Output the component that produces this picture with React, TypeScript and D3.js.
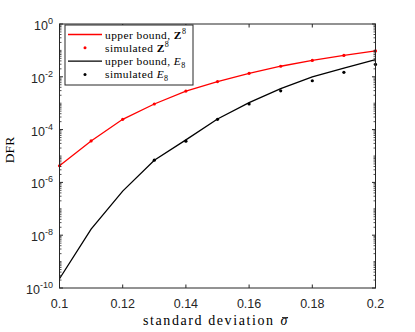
import React from 'react';
import * as d3 from 'd3';

// sigma values and DFR curves (log10 values)
const sigmas = [0.1, 0.11, 0.12, 0.13, 0.14, 0.15, 0.16, 0.17, 0.18, 0.19, 0.2];
const boundZ8 = [-5.37, -4.43, -3.61, -3.03, -2.54, -2.18, -1.87, -1.6, -1.38, -1.19, -1.02];
const simZ8 = [-5.37, -4.43, -3.61, -3.03, -2.54, -2.18, -1.87, -1.6, -1.38, -1.19, -1.02];
const boundE8 = [-9.65, -7.77, -6.33, -5.16, -4.39, -3.6, -2.98, -2.45, -2.0, -1.67, -1.35];
const simE8Sigmas = [0.13, 0.14, 0.15, 0.16, 0.17, 0.18, 0.19, 0.2];
const simE8 = [-5.16, -4.44, -3.61, -3.03, -2.53, -2.15, -1.83, -1.53];

const xTicks = [0.1, 0.12, 0.14, 0.16, 0.18, 0.2];
const xTickLabels = ['0.1', '0.12', '0.14', '0.16', '0.18', '0.2'];
const yExps = [0, -2, -4, -6, -8, -10];

const W = 415;
const H = 332;
const left = 59.5;
const right = 375.5;
const top = 24;
const bottom = 288;

export default function App() {
  const x = d3.scaleLinear().domain([0.1, 0.2]).range([left, right]);
  const y = d3.scaleLog().domain([1e-10, 1]).range([bottom, top]);

  const line = d3
    .line<number>()
    .x((_, i) => x(sigmas[i]))
    .y((d) => y(Math.pow(10, d)));

  const axisColor = '#262626';
  const tickFont = '"Liberation Sans", Arial, sans-serif';
  const serif = '"Liberation Serif", "Times New Roman", serif';

  // minor ticks for every decade
  const minor: number[] = [];
  for (let e = -10; e < 0; e++) {
    for (let m = 1; m < 10; m++) {
      const v = m * Math.pow(10, e);
      if (m === 1 && e % 2 === 0) continue;
      minor.push(v);
    }
  }

  const legendRows = [
    { color: '#ff0000', kind: 'line', text: 'upper bound, ', sym: 'Z', sup: true },
    { color: '#ff0000', kind: 'dot', text: 'simulated ', sym: 'Z', sup: true },
    { color: '#000000', kind: 'line', text: 'upper bound, ', sym: 'E', sup: false },
    { color: '#000000', kind: 'dot', text: 'simulated ', sym: 'E', sup: false },
  ];

  return (
    <div style={{ position: 'fixed', left: 0, top: 0 }}>
      <svg width={W} height={H} style={{ display: 'block', background: '#fff' }}>
        {/* data */}
        <path d={line(boundZ8) || ''} fill="none" stroke="#ff0000" strokeWidth={1.3} />
        <path d={line(boundE8) || ''} fill="none" stroke="#000" strokeWidth={1.3} />
        {simZ8.map((d, i) => (
          <circle key={'z' + i} cx={x(sigmas[i])} cy={y(Math.pow(10, d))} r={1.6} fill="#ff0000" />
        ))}
        {simE8.map((d, i) => (
          <circle key={'e' + i} cx={x(simE8Sigmas[i])} cy={y(Math.pow(10, d))} r={1.6} fill="#000" />
        ))}

        {/* frame */}
        <rect x={left} y={top} width={right - left} height={bottom - top} fill="none" stroke={axisColor} strokeWidth={1} />

        {/* x ticks */}
        {xTicks.map((t, i) => (
          <g key={'xt' + i}>
            <line x1={x(t)} x2={x(t)} y1={bottom} y2={bottom - 3.5} stroke={axisColor} />
            <line x1={x(t)} x2={x(t)} y1={top} y2={top + 3.5} stroke={axisColor} />
            <text x={x(t)} y={307.5} textAnchor="middle" fontFamily={tickFont} fontSize={12.5} fill={axisColor}>
              {xTickLabels[i]}
            </text>
          </g>
        ))}

        {/* y ticks */}
        {yExps.map((e) => (
          <g key={'yt' + e}>
            <line x1={left} x2={left + 3.5} y1={y(Math.pow(10, e))} y2={y(Math.pow(10, e))} stroke={axisColor} />
            <line x1={right} x2={right - 3.5} y1={y(Math.pow(10, e))} y2={y(Math.pow(10, e))} stroke={axisColor} />
            <text x={53} y={y(Math.pow(10, e)) + 6} textAnchor="end" fontFamily={tickFont} fontSize={12.5} fill={axisColor}>
              10
              <tspan dy={-6} fontSize={9}>{e}</tspan>
            </text>
          </g>
        ))}
        {minor.map((v, i) => (
          <g key={'mn' + i}>
            <line x1={left} x2={left + 2} y1={y(v)} y2={y(v)} stroke={axisColor} strokeWidth={0.8} />
            <line x1={right} x2={right - 2} y1={y(v)} y2={y(v)} stroke={axisColor} strokeWidth={0.8} />
          </g>
        ))}

        {/* axis labels */}
        <text x={143} y={325} textLength={130} lengthAdjust="spacing" fontFamily={serif} fontSize={14} fill="#000">
          standard deviation
        </text>
        <text x={280.5} y={325} fontFamily={serif} fontStyle="italic" fontSize={14} fill="#000">
          σ
        </text>
        <line x1={282} x2={288} y1={317.5} y2={317.5} stroke="#000" strokeWidth={0.8} />
        <text
          transform={`translate(13.5,${150}) rotate(-90)`}
          textAnchor="middle"
          fontFamily={serif}
          fontSize={13.5}
          fill="#000"
        >
          DFR
        </text>

        {/* legend */}
        <rect x={65} y={25} width={128} height={60} fill="#fff" stroke={axisColor} strokeWidth={1} />
        {legendRows.map((r, i) => {
          const ry = 34.5 + i * 13.3;
          return (
            <g key={'lg' + i}>
              {r.kind === 'line' ? (
                <line x1={68} x2={102} y1={ry} y2={ry} stroke={r.color} strokeWidth={1.3} />
              ) : (
                <circle cx={85} cy={ry} r={1.5} fill={r.color} />
              )}
              <text x={105} y={ry + 4} fontFamily={serif} fontSize={11.4} letterSpacing={0.45} fill="#000">
                {r.text}
                {r.sup ? (
                  <>
                    <tspan fontWeight="bold">{r.sym}</tspan>
                    <tspan dy={-4.5} fontSize={8}>8</tspan>
                  </>
                ) : (
                  <>
                    <tspan fontStyle="italic">{r.sym}</tspan>
                    <tspan dy={2.5} fontSize={8}>8</tspan>
                  </>
                )}
              </text>
            </g>
          );
        })}
      </svg>
    </div>
  );
}
